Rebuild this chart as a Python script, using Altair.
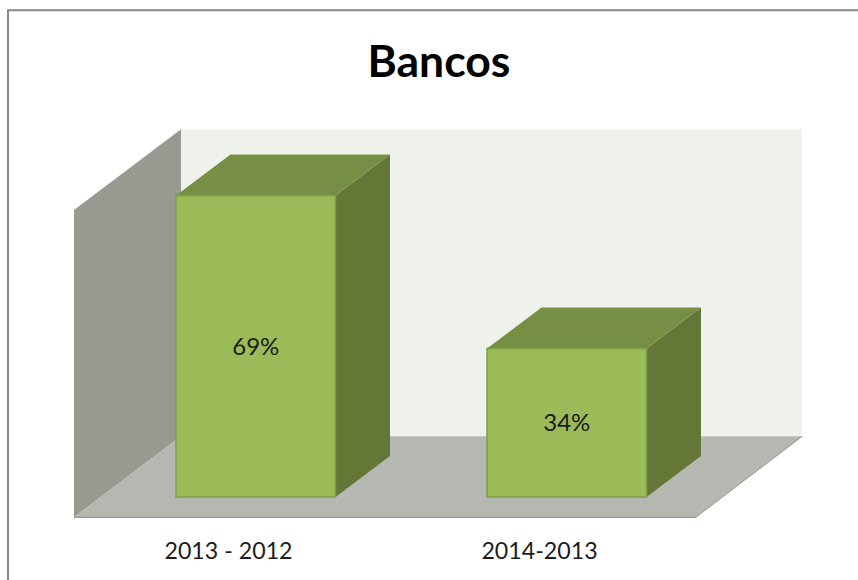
import altair as alt
import pandas as pd

# Chart content
categories = ["2013 - 2012", "2014-2013"]
values = [69, 34]
labels = ["69%", "34%"]
chart_title = "Bancos"

# Oblique projection of the 3D box: the x axis runs in column units, the y axis in percent
bar_left = [176, 487]
bar_width = 159.5
depth_x = 54.5
depth_y = 9.4
wall_left = 74
wall_right = 696
floor_front = -4.6
wall_top = 65.7
wall_depth_x = 107
wall_depth_y = 18.5

# Palette of the faces
front_fill = "#9BBB59"
front_edge = "#7F9E4A"
top_fill = "#778F45"
side_fill = "#647737"
back_wall_fill = "#EFF2EB"
left_wall_fill = "#989A92"
floor_fill = "#B5B8B0"
floor_edge = "#9A9C96"
frame_color = "#878787"
text_color = "#1C1C1C"

FONT = "Lato"
W, H = 858, 580
x_scale = alt.Scale(domain=[0, W], range=[0, W], nice=False, zero=False)
y_scale = alt.Scale(domain=[-18.97, 113.76], range=[H, 0], nice=False, zero=False)
X = alt.X("x:Q", scale=x_scale, axis=None)
Y = alt.Y("y:Q", scale=y_scale, axis=None)


def side_face(x0, x1, y_low0, y_high0, y_low1, y_high1, fill):
    """Face whose vertical edges sit at x0 and x1."""
    data = pd.DataFrame({"x": [x0, x1], "y": [y_low0, y_low1], "y2": [y_high0, y_high1]})
    return alt.Chart(data).mark_area(fill=fill, orient="vertical").encode(
        x=X, y=Y, y2="y2:Q"
    )


def flat_face(x0, x1, y0, dx, dy, fill):
    """Horizontal face: an edge from x0 to x1 at height y, slanted back by dx and dy."""
    data = pd.DataFrame({"x": [x0, x0 + dx], "x2": [x1, x1 + dx], "y": [y0, y0 + dy]})
    return alt.Chart(data).mark_area(fill=fill, orient="horizontal").encode(
        x=X, x2="x2:Q", y=Y
    )


layers = []

# Back wall, left wall and floor
back_right = wall_right + wall_depth_x - 1
back_left = wall_left + wall_depth_x
back_low = floor_front + wall_depth_y
back_high = wall_top + wall_depth_y
layers.append(
    alt.Chart(pd.DataFrame({"x": [back_left], "x2": [back_right], "y": [back_low], "y2": [back_high]}))
    .mark_rect(fill=back_wall_fill)
    .encode(x=X, x2="x2:Q", y=Y, y2="y2:Q")
)
layers.append(side_face(wall_left, back_left, floor_front, wall_top, back_low, back_high, left_wall_fill))
layers.append(flat_face(wall_left, wall_right, floor_front, wall_depth_x, wall_depth_y, floor_fill))

# Front edge of the floor
layers.append(
    alt.Chart(pd.DataFrame({"x": [wall_left, wall_right], "y": [floor_front, floor_front]}))
    .mark_line(color=floor_edge, strokeWidth=1.5)
    .encode(x=X, y=Y)
)
layers.append(
    alt.Chart(pd.DataFrame({"x": [wall_right, wall_right + wall_depth_x - 1], "y": [floor_front, back_low]}))
    .mark_line(color=floor_edge, strokeWidth=1)
    .encode(x=X, y=Y)
)

# One box per value: side, top, then front
for left, value in zip(bar_left, values):
    right = left + bar_width
    layers.append(side_face(right, right + depth_x, 0, value, depth_y, value + depth_y, side_fill))
    layers.append(flat_face(left, right, value, depth_x, depth_y, top_fill))
    front = pd.DataFrame({"x": [left], "x2": [right], "y": [0], "y2": [value]})
    layers.append(
        alt.Chart(front)
        .mark_rect(fill=front_fill, stroke=front_edge, strokeWidth=1.5)
        .encode(x=X, x2="x2:Q", y=Y, y2="y2:Q")
    )

# Value labels centred on the front faces
value_labels = pd.DataFrame({
    "x": [l + bar_width / 2 for l in bar_left],
    "y": [v / 2 for v in values],
    "label": labels,
})
layers.append(
    alt.Chart(value_labels)
    .mark_text(font=FONT, fontSize=24, color=text_color, align="center", baseline="middle", dy=1.5)
    .encode(x=X, y=Y, text="label:N")
)

# Category labels below the floor
category_labels = pd.DataFrame({
    "x": [l + bar_width / 2 - depth_x / 2 for l in bar_left],
    "y": [-12.6, -12.6],
    "label": categories,
})
layers.append(
    alt.Chart(category_labels)
    .mark_text(font=FONT, fontSize=23.2, color=text_color, align="center", baseline="middle")
    .encode(x=X, y=Y, text="label:N")
)

# Outer frame of the chart area: left and top edges
frame_x = 8
frame_top = 111.4
layers.append(
    alt.Chart(pd.DataFrame({"x": [frame_x, frame_x, W], "y": [-18.97, frame_top, frame_top], "o": [0, 1, 2]}))
    .mark_line(color=frame_color, strokeWidth=2, clip=True)
    .encode(x=X, y=Y, order="o:Q")
)

chart = (
    alt.layer(*layers)
    .properties(
        width=W,
        height=H,
        padding=0,
        autosize=alt.AutoSizeParams(type="none"),
        background="white",
        title=alt.TitleParams(
            chart_title,
            font=FONT,
            fontSize=44.5,
            fontWeight="bold",
            color="#000000",
            anchor="middle",
            frame="group",
            baseline="bottom",
            offset=-78,
            dx=10,
            dy=52,
        ),
    )
    .configure_view(stroke=None)
)

chart.save("out.html", embed_options={"renderer": "svg", "actions": False})
